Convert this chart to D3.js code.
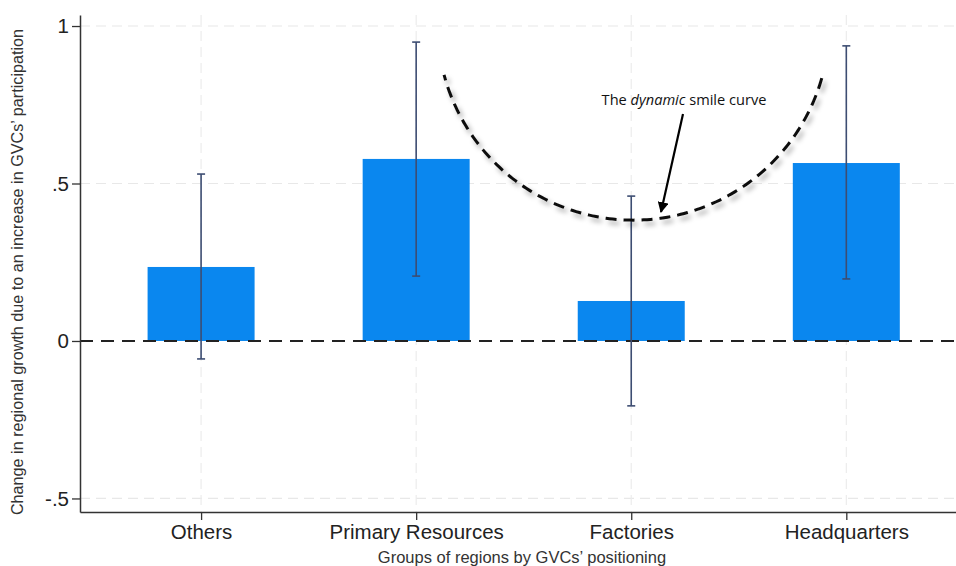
<!DOCTYPE html>
<html>
<head>
<meta charset="utf-8">
<script src="https://cdn.jsdelivr.net/npm/d3@7"></script>
<style>
  html, body { margin: 0; padding: 0; background: #fff; }
  svg { display: block; font-family: "Liberation Sans", Arial, sans-serif; }
</style>
</head>
<body>
<svg id="chart" width="956" height="566"></svg>
<script>
// ── data ─────────────────────────────────────────────
const categories = ['Others', 'Primary Resources', 'Factories', 'Headquarters'];
const estimates  = [0.235, 0.578, 0.127, 0.565];
const ciLow      = [-0.057, 0.206, -0.206, 0.197];
const ciHigh     = [0.530, 0.949, 0.460, 0.937];
const yTicks     = [-0.5, 0, 0.5, 1];
const yTickLabels = ['-.5', '0', '.5', '1'];

// smile curve annotation (data units for centre, px radius)
const smile = { cx: 3.01, cy: 1.006, r: 196, a0: 196, a1: 345 };

// ── layout ───────────────────────────────────────────
const svg = d3.select('#chart');
const pl = 80, pr = 956, pt = 15, pb = 512;

const x = d3.scaleLinear().domain([0.437, 4.51]).range([pl, pr]);
const y = d3.scaleLinear().domain([-0.543, 1.035]).range([pb, pt]);
const barW = 107;

const defs = svg.append('defs');
defs.append('filter').attr('id', 'shadow')
  .attr('x', '-20%').attr('y', '-20%').attr('width', '140%').attr('height', '140%')
  .append('feDropShadow')
    .attr('dx', 3).attr('dy', 4).attr('stdDeviation', 2.5)
    .attr('flood-color', '#000').attr('flood-opacity', 0.35);
defs.append('marker').attr('id', 'arrow')
  .attr('viewBox', '0 0 10 10').attr('refX', 9).attr('refY', 5)
  .attr('markerWidth', 5).attr('markerHeight', 5).attr('orient', 'auto')
  .append('path').attr('d', 'M0,0 L10,5 L0,10 z').attr('fill', '#000');

// grid
svg.append('g').selectAll('line.hg')
  .data(yTicks.filter(d => d !== 0)).enter().append('line')
    .attr('x1', pl).attr('x2', pr)
    .attr('y1', d => y(d)).attr('y2', d => y(d))
    .attr('stroke', '#e8e8e8').attr('stroke-width', 1.2)
    .attr('stroke-dasharray', '10,6');
svg.append('g').selectAll('line.vg')
  .data(categories).enter().append('line')
    .attr('x1', (d, i) => x(i + 1)).attr('x2', (d, i) => x(i + 1))
    .attr('y1', pt).attr('y2', pb)
    .attr('stroke', '#ececec').attr('stroke-width', 1.2)
    .attr('stroke-dasharray', '10,6');

// bars
svg.append('g').selectAll('rect')
  .data(estimates).enter().append('rect')
    .attr('x', (d, i) => x(i + 1) - barW / 2)
    .attr('width', barW)
    .attr('y', d => y(Math.max(0, d)))
    .attr('height', d => Math.abs(y(d) - y(0)))
    .attr('fill', '#0a87ef');

// zero line
svg.append('line')
  .attr('x1', pl).attr('x2', pr)
  .attr('y1', y(0)).attr('y2', y(0))
  .attr('stroke', '#222').attr('stroke-width', 2)
  .attr('stroke-dasharray', '13,8');

// error bars
const eb = svg.append('g').attr('stroke', '#3d4d72').attr('stroke-width', 1.6);
categories.forEach((c, i) => {
  const cx = x(i + 1);
  eb.append('line').attr('x1', cx).attr('x2', cx)
    .attr('y1', y(ciLow[i])).attr('y2', y(ciHigh[i]));
  [ciLow[i], ciHigh[i]].forEach(v => {
    eb.append('line').attr('x1', cx - 4).attr('x2', cx + 4)
      .attr('y1', y(v)).attr('y2', y(v));
  });
});

// axes
const yAxis = svg.append('g').attr('transform', `translate(${pl},0)`)
  .call(d3.axisLeft(y).tickValues(yTicks).tickSize(8).tickSizeOuter(0).tickPadding(3)
    .tickFormat((d, i) => yTickLabels[i]));
const xAxis = svg.append('g').attr('transform', `translate(0,${pb})`)
  .call(d3.axisBottom(x).tickValues([1, 2, 3, 4]).tickSize(8).tickSizeOuter(0).tickPadding(4)
    .tickFormat(d => categories[d - 1]));
[yAxis, xAxis].forEach(a => {
  a.select('.domain').attr('stroke', '#333').attr('stroke-width', 1.5);
  a.selectAll('.tick line').attr('stroke', '#333').attr('stroke-width', 1.3);
  a.selectAll('text').attr('fill', '#222').style('font-size', '20.5px')
    .style('font-family', '"Liberation Sans", Arial, sans-serif');
});

// axis titles
svg.append('text')
  .attr('x', 522).attr('y', 563)
  .attr('text-anchor', 'middle').attr('fill', '#333')
  .style('font-size', '16.5px')
  .text('Groups of regions by GVCs\u2019 positioning');
svg.append('text')
  .attr('transform', `translate(23,${272}) rotate(-90)`)
  .attr('text-anchor', 'middle').attr('fill', '#333')
  .style('font-size', '16.2px')
  .text('Change in regional growth due to an increase in GVCs\u2019 participation');

// smile curve
const ccx = x(smile.cx), ccy = y(smile.cy);
const arcPts = d3.range(smile.a0, smile.a1 + 0.1, 1).map(a => {
  const t = a * Math.PI / 180;
  return [ccx + smile.r * Math.cos(t - Math.PI), ccy + smile.r * Math.sin(t - Math.PI)];
});
svg.append('path')
  .attr('d', d3.line()(arcPts))
  .attr('fill', 'none').attr('stroke', '#111').attr('stroke-width', 3)
  .attr('stroke-dasharray', '11,7')
  .attr('filter', 'url(#shadow)');

// annotation
svg.append('line')
  .attr('x1', 683).attr('y1', 114).attr('x2', 661).attr('y2', 212)
  .attr('stroke', '#000').attr('stroke-width', 2.2)
  .attr('marker-end', 'url(#arrow)');
const note = svg.append('text')
  .attr('x', 684).attr('y', 105).attr('text-anchor', 'middle')
  .attr('fill', '#111')
  .style('font-family', '"Open Sans", "Noto Sans", sans-serif')
  .style('font-size', '14.6px');
note.append('tspan').text('The ');
note.append('tspan').style('font-style', 'italic').text('dynamic');
note.append('tspan').text(' smile curve');
</script>
</body>
</html>
